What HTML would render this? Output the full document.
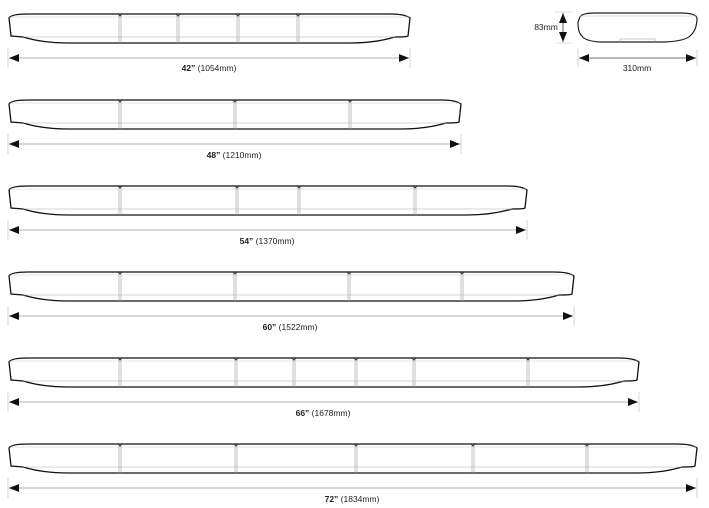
<!DOCTYPE html>
<html><head><meta charset="utf-8">
<style>
html,body{margin:0;padding:0;background:#fff;width:709px;height:508px;overflow:hidden}
svg{display:block}
text{font-family:"Liberation Sans",sans-serif;font-size:8.5px;fill:#222}
</style></head>
<body>
<svg id="s" width="709" height="508" viewBox="0 0 709 508" xmlns="http://www.w3.org/2000/svg">
<defs>
<marker id="a" viewBox="0 0 10 10" refX="10" refY="5" markerWidth="10" markerHeight="10" markerUnits="userSpaceOnUse" orient="auto-start-reverse"><path d="M0,1L10,5L0,9Z" fill="#111"/></marker>
</defs>
<g id="g"></g>
<text x="209" y="71" text-anchor="middle"><tspan font-weight="bold">42”</tspan> (1054mm)</text>
<text x="234" y="158" text-anchor="middle"><tspan font-weight="bold">48”</tspan> (1210mm)</text>
<text x="267" y="244" text-anchor="middle"><tspan font-weight="bold">54”</tspan> (1370mm)</text>
<text x="290" y="330" text-anchor="middle"><tspan font-weight="bold">60”</tspan> (1522mm)</text>
<text x="323" y="416" text-anchor="middle"><tspan font-weight="bold">66”</tspan> (1678mm)</text>
<text x="352" y="502" text-anchor="middle"><tspan font-weight="bold">72”</tspan> (1834mm)</text>
<text x="546" y="30" text-anchor="middle">83mm</text>
<text x="637" y="71" text-anchor="middle">310mm</text>
<path d="M580,17 Q582,13 595,13 L680,13 Q696,13 697,18 Q697,30 690,36 Q685,41 665,42 L600,42 Q585,41 582,36 Q578,33 578,22 Z" fill="#fff" stroke="#222" stroke-width="1.2"/>
<line x1="580" y1="16" x2="696" y2="16" stroke="#bbb" stroke-width="0.6"/>
<path d="M620,42 L620,39 L655,39 L655,42" fill="none" stroke="#999" stroke-width="0.6"/>
<line x1="555" y1="12" x2="572" y2="12" stroke="#bbb" stroke-width="0.6"/>
<line x1="555" y1="43" x2="572" y2="43" stroke="#bbb" stroke-width="0.6"/>
<line x1="563" y1="13" x2="563" y2="42" stroke="#222" stroke-width="0.7" marker-start="url(#a)" marker-end="url(#a)"/>
<line x1="578" y1="49" x2="578" y2="66" stroke="#bbb" stroke-width="0.6"/>
<line x1="697" y1="49" x2="697" y2="66" stroke="#bbb" stroke-width="0.6"/>
<line x1="579" y1="58" x2="696" y2="58" stroke="#444" stroke-width="0.7" marker-start="url(#a)" marker-end="url(#a)"/>
</svg>
<script>
var bars=[
 [8,410,12,[120,178,238,298]],
 [8,461,98,[120,235,350]],
 [8,527,184,[120,237,299,415]],
 [8,574,270,[120,235,349,462]],
 [8,639,356,[120,236,294,356,414,528]],
 [8,697,442,[120,236,356,473,587]]
];
var h='';
bars.forEach(function(b){
 var x0=b[0],x1=b[1],t=b[2];
 h+='<path d="M'+(x0+1)+','+(t+6)+' Q'+(x0+3)+','+(t+2)+' '+(x0+20)+','+(t+2)+' L'+(x1-20)+','+(t+2)+' Q'+(x1-5)+','+(t+2)+' '+(x1)+','+(t+6)+' L'+(x1-2)+','+(t+24)+' Q'+(x1-3)+','+(t+25)+' '+(x1-15)+','+(t+25)+' Q'+(x1-35)+','+(t+31)+' '+(x1-60)+','+(t+31)+' L'+(x0+60)+','+(t+31)+' Q'+(x0+35)+','+(t+31)+' '+(x0+15)+','+(t+25)+' L'+(x0+3)+','+(t+24)+' Z" fill="#fff" stroke="#111" stroke-width="1.3"/>';
 h+='<line x1="'+(x0+3)+'" y1="'+(t+5)+'" x2="'+(x1-1)+'" y2="'+(t+5)+'" stroke="#ccc" stroke-width="0.6"/>';
 h+='<line x1="'+(x0+15)+'" y1="'+(t+25)+'" x2="'+(x1-15)+'" y2="'+(t+25)+'" stroke="#aaa" stroke-width="0.6"/>';
 b[3].forEach(function(d){
  h+='<line x1="'+(d-1)+'" y1="'+(t+3)+'" x2="'+(d-1)+'" y2="'+(t+31)+'" stroke="#999" stroke-width="0.6"/>';
  h+='<line x1="'+(d+1)+'" y1="'+(t+3)+'" x2="'+(d+1)+'" y2="'+(t+31)+'" stroke="#999" stroke-width="0.6"/>';
  h+='<path d="M'+(d-2)+','+(t+2)+' L'+d+','+(t+4)+' L'+(d+2)+','+(t+2)+'" fill="none" stroke="#222" stroke-width="0.8"/>';
 });
 var dy=t+46;
 h+='<line x1="'+x0+'" y1="'+(dy-10)+'" x2="'+x0+'" y2="'+(dy+10)+'" stroke="#bbb" stroke-width="0.6"/>';
 h+='<line x1="'+x1+'" y1="'+(dy-10)+'" x2="'+x1+'" y2="'+(dy+10)+'" stroke="#bbb" stroke-width="0.6"/>';
 h+='<line x1="'+(x0+1)+'" y1="'+dy+'" x2="'+(x1-1)+'" y2="'+dy+'" stroke="#999" stroke-width="0.7" marker-start="url(#a)" marker-end="url(#a)"/>';
});
document.getElementById('g').innerHTML=h;
</script>
</body></html>
